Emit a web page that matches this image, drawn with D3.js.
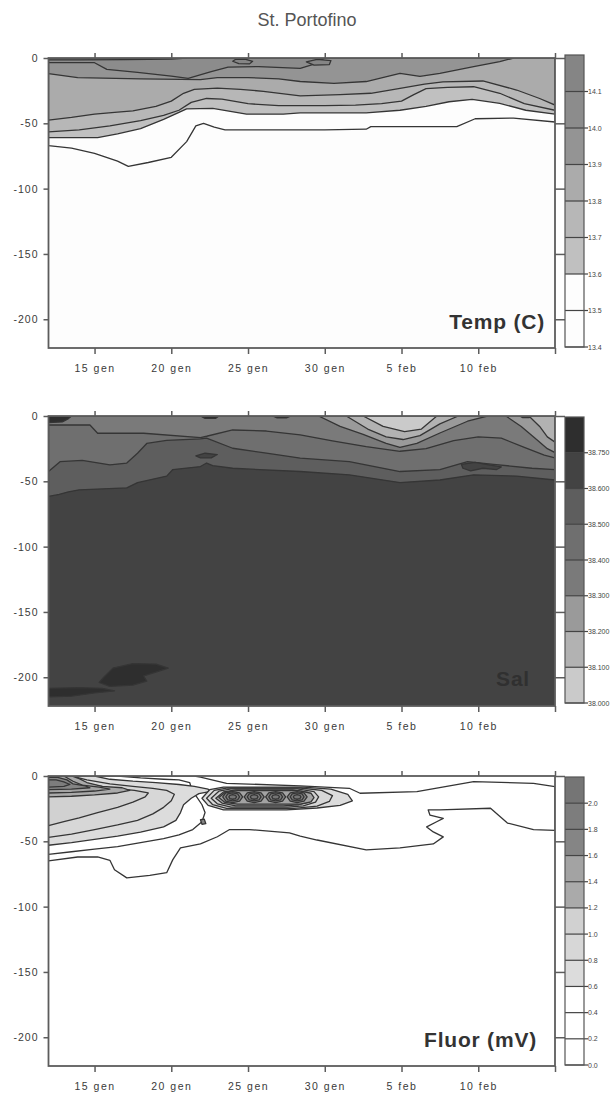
<!DOCTYPE html>
<html>
<head>
<meta charset="utf-8">
<script src="https://cdn.jsdelivr.net/npm/d3@7"></script>
<style>
  body { margin: 0; background: #fff; }
  svg { display: block; font-family: "Liberation Sans", Arial, sans-serif; }
</style>
</head>
<body>
<svg id="chart" width="613" height="1097"></svg>
<script>
// ---------- axes ----------
const dayTicks = [15, 20, 25, 30, 35, 40, 45];          // day count from 1 January
const dayTickLabels = ["15 gen", "20 gen", "25 gen", "30 gen", "5 feb", "10 feb", ""];
const depthTicks = [0, -50, -100, -150, -200];            // metres

// ---------- temperature (contour regions as [day, depth] outlines) ----------
const tempLevels = ["13.4", "13.5", "13.6", "13.7", "13.8", "13.9", "14.0", "14.1"];
const tempColors = ["#fdfdfd", "#fdfdfd", "#c0c0c0", "#b7b7b7", "#ababab", "#949494", "#8c8c8c", "#858585"];
const temp1 = [[12,-67],[13.5,-69],[15,-73],[16.5,-79],[17.2,-83],[18.5,-80],[20,-76],[21,-64],[21.6,-52],[22.1,-50],[22.8,-53],[23.5,-55],[30,-55],[32.7,-54.5],[33,-52.5],[38.6,-52.5],[39.8,-46.5],[42.3,-46],[45,-49],[45,0],[12,0]];
const temp2 = [[12,-61],[15.2,-61],[16.5,-58],[18,-54],[19.5,-47],[21,-39],[22.7,-38.5],[24.9,-43],[27.3,-43],[28.4,-42],[32.7,-42],[34.9,-40],[36.6,-37],[38.1,-33.5],[39.6,-31.7],[41.4,-34.7],[43.1,-40],[45,-43],[45,0],[12,0]];
const temp3 = [[12,-56.5],[14,-55],[16,-52],[18,-48],[19.5,-44],[20.5,-40],[21.3,-34],[22.3,-31],[23.3,-31.5],[25,-35],[27,-36.5],[30,-36.5],[32,-36],[33.7,-35],[35,-33],[35.8,-28],[36.6,-23.5],[38,-22.5],[39.7,-22],[41.4,-27],[43,-35],[45,-40],[45,0],[12,0]];
const temp4 = [[12,-47.5],[13.5,-45.5],[15,-43],[16.5,-41.5],[17.5,-40.5],[19,-37],[20,-33],[20.8,-27],[21.5,-24],[23,-23],[24.5,-24],[26,-25.5],[28.4,-29],[31,-28],[33,-27],[35,-23],[36.5,-20],[37.7,-18.3],[40.3,-17.6],[42.5,-24.5],[44,-31],[45,-36],[45,0],[12,0]];
const temp5 = [[12,-12],[13.9,-15],[18,-16],[21.9,-16.5],[23,-15],[25,-15],[27,-16],[28.4,-18],[30.6,-19.4],[32.7,-18],[34.9,-11.8],[36.2,-14],[37.5,-11.8],[39.7,-6.6],[41.4,-2.8],[42.3,0],[12,0]];
const temp6 = [[12,-3.6],[15,-3.6],[15.8,-8.7],[17.8,-11],[20,-13.8],[21.1,-15.6],[22.6,-10.5],[23.7,-7],[25.7,-6.6],[28.4,-8],[29.2,-5],[29.7,-2],[30,0],[12,0]];
const temp7a = [[12,0],[12,-1.5],[14,-1.5],[17,-1.2],[20,-0.8],[21,0]];
const temp7b = [[24,-2.5],[24.4,-4.3],[25.1,-4.5],[25.3,-2.5],[24.8,-0.8],[24.2,-1]];
const temp7c = [[28.8,-3],[29.3,-5.5],[30.3,-5],[30.4,-2],[29.5,-1]];

// ---------- salinity ----------
const salLevels = ["38.000", "38.100", "38.200", "38.300", "38.400", "38.500", "38.600", "38.750"];
const salColors = ["#cacaca", "#b2b2b2", "#9a9a9a", "#7a7a7a", "#6f6f6f", "#5e5e5e", "#434343", "#2e2e2e"];
const sal5 = [[12,-61.6],[12.7,-60],[13.3,-58],[14,-56.5],[17.1,-55],[17.8,-51],[19.7,-46],[20.1,-41],[21.9,-38.7],[22.3,-36],[22.7,-38],[24,-40],[28.4,-42.5],[31.6,-45],[34.9,-51],[37.5,-49],[39.7,-45],[42.5,-46],[45,-49],[45,0],[12,0]];
const sal4 = [[12,-42.5],[12.75,-35],[14.2,-34],[16,-37.4],[17.1,-36],[17.8,-28.5],[18.4,-21],[19.7,-18.7],[21.9,-17.5],[22.3,-17],[24,-24.7],[26.2,-28.5],[28.4,-32.3],[31.6,-35],[34.9,-42.5],[37.5,-41],[39.3,-35],[41,-37],[43.5,-40],[45,-41],[45,0],[12,0]];
const sal3 = [[12,-6.9],[14.7,-6.9],[15.2,-13.2],[18.2,-13.2],[21.9,-16.5],[22.3,-15.5],[24,-10.7],[26.2,-11.5],[28.4,-14.5],[30.5,-19],[32.7,-23.4],[34.9,-27],[36.6,-25],[38.4,-18.8],[40,-16],[41.5,-17],[43,-24],[44.3,-30],[45,-32],[45,0],[12,0]];
const sal2a = [[29.6,0],[31,-8],[32.5,-14],[34,-21],[34.9,-24],[36,-21],[37.5,-13],[39.3,-4],[40.6,0]];
const sal2b = [[41.8,0],[42.8,-8],[43.8,-18],[44.5,-25],[45,-28],[45,0]];
const sal1a = [[31.4,0],[32.8,-10],[34,-16],[35.1,-18],[36.2,-15],[37.5,-6],[38.7,0]];
const sal1b = [[43.3,0],[44,-8],[44.5,-16],[45,-20],[45,0]];
const sal0 = [[32.5,0],[33.8,-8],[35.2,-12],[36.3,-10],[37.3,0]];
const sal6a = [[21.6,-30.5],[22.2,-28.5],[23,-29.5],[22.6,-32],[21.9,-32]];
const sal6b = [[38.9,-37],[39.8,-35.5],[40.5,-37],[41.5,-39],[41.2,-41],[40.3,-40],[39.5,-42],[39,-40]];
const sal7a = [[15.6,-200],[16.2,-193],[17.5,-189.5],[19,-190],[19.8,-193],[19,-196],[18.2,-199],[18.4,-203],[17.5,-206],[16,-207],[15.3,-204]];
const sal7b = [[12,-208.5],[14,-208],[15.5,-208.5],[16.3,-210.5],[15,-212],[13.5,-214.5],[12,-215]];
const sal7c = [[12,0],[12,-5],[12.9,-4.5],[13.3,-2],[13.5,0]];
const sal7d = [[21.9,0],[22.2,-1.8],[22.9,-1.8],[23.1,0]];
const sal7e = [[26.6,0],[26.9,-1.5],[27.5,-1.5],[27.8,0]];
const sal7f = [[42.7,0],[42.9,-1.3],[43.3,-1.3],[43.5,0]];

// ---------- fluorescence ----------
const fluorLevels = ["0.0", "0.2", "0.4", "0.6", "0.8", "1.0", "1.2", "1.4", "1.6", "1.8", "2.0"];
const fluorColors = ["#ffffff", "#ffffff", "#ffffff", "#dcdcdc", "#d7d7d7", "#d1d1d1", "#aaaaaa", "#a3a3a3", "#858585", "#7d7d7d", "#757575"];
const fluor1 = [[12,-65],[13.9,-62],[15.2,-62],[16,-64.5],[16.3,-71.8],[17.1,-78],[18.6,-76],[19.7,-74],[20.1,-64],[20.6,-55],[21.9,-52],[23,-46.5],[23.8,-41],[25.1,-41],[27.7,-43.5],[28.4,-46],[29.5,-49],[32.7,-56.5],[34.9,-55],[37.07,-52],[37.72,-46.6],[37.07,-42.8],[36.64,-39],[37.29,-35],[37.72,-32.4],[36.85,-29.9],[36.74,-26],[37.5,-26],[40.8,-24.7],[41.9,-36],[43.6,-41],[45,-41.7],[45,-8.1],[43.6,-5.6],[39.7,-4.3],[36,-12],[32.3,-13.2],[31.6,-9.4],[28.4,-7.5],[23.6,-5.6],[21.9,-0.8],[21.5,0],[12,0]];
const fluor2 = [[12,0],[12,-60],[13.5,-58],[15,-56],[16.5,-54],[18,-51],[19.5,-48],[20.5,-45],[21.4,-41],[22,-35],[22.2,-28],[22,-22],[21.6,-15],[21.3,-9],[21.2,-5],[20.5,-3],[19.5,-2.5],[18,-1.5],[16.5,0]];
const fluor3 = [[12,0],[12,-53],[13.5,-51],[15,-48.5],[16.5,-46],[18,-43],[19.5,-39],[20.3,-34],[20.6,-28],[20.8,-22],[21.3,-17],[21.8,-13.5],[22.5,-12],[22.4,-10],[21.5,-8],[20.5,-6.5],[19,-5],[17.5,-4],[16,-2.5],[15,0]];
const fluor4 = [[12,0],[12,-47],[13.5,-44.5],[15,-41],[16.5,-37.5],[17.8,-34],[18.8,-29],[19.5,-24],[20,-19],[20.2,-14],[19.7,-11],[18.8,-9.5],[17.5,-8],[16,-6],[14.5,-3],[13.5,0]];
const fluor5 = [[12,0],[12,-38],[13,-35],[14,-32],[15.2,-28],[16.5,-24],[17.5,-20],[18.3,-16],[18.5,-13],[17.6,-11],[16.2,-9.5],[15,-7],[13.8,-4],[13,0]];
const fluor6 = [[12,0],[12,-16],[13.5,-15.5],[15,-14.5],[16.5,-13],[17.3,-11],[16.8,-9],[15.5,-8],[14.5,-5],[14,-2],[13.5,0]];
const fluor7 = [[12,0],[12,-13],[13.5,-12.5],[15,-11.5],[16,-10],[15.3,-8.5],[14.2,-7],[13.6,-4],[13,0]];
const fluor8 = [[12,-1],[12,-10.5],[13.5,-10],[14.7,-9],[14.4,-7.5],[13.6,-6],[13.2,-3],[12.6,-1]];
const fluor9 = [[12,-3],[12,-8.5],[13,-8],[13.4,-6.5],[13,-4.5],[12.5,-3]];
const fluorMark = [[21.9,-33.5],[22.15,-33],[22.25,-36.5],[22.0,-37]];
// subsurface maximum, 22-31 January: outer rings, then a row of small cores
const blob3 = [[22.0,-17],[22.5,-10.5],[23.4,-8.5],[28.6,-8.5],[30.4,-10],[31.5,-14],[31.8,-19],[31.0,-22.5],[29.5,-24.5],[27.5,-26],[23.4,-26],[22.4,-22.5]];
const blob4 = [[22.3,-17],[22.8,-11],[23.6,-9.2],[28.4,-9.2],[29.8,-11],[30.5,-15],[30.3,-19.5],[29.5,-23],[28,-24.8],[23.6,-24.8],[22.7,-22]];
const blob5 = [[22.6,-17],[23.1,-11.6],[23.9,-9.9],[28.2,-9.9],[29.3,-12],[29.6,-16],[29.4,-20],[28.6,-22.8],[27.6,-23.8],[23.9,-23.8],[23,-21.3]];
const blob6 = [[22.9,-17],[23.4,-12.2],[24.2,-10.6],[27.9,-10.6],[28.9,-12.6],[29.2,-16.5],[29,-20],[28.3,-22],[27.3,-22.8],[24.2,-22.8],[23.3,-20.7]];
const blob7 = [[23.1,-16.5],[23.5,-12.6],[24.3,-11.2],[28.3,-11.2],[29.1,-13.2],[29.3,-16.5],[29.1,-19.8],[28.4,-21.6],[24.3,-21.6],[23.5,-20.2]];
const blob8 = [
  [[23.35,-16],[23.55,-12.85],[24.0,-11.9],[24.45,-12.85],[24.65,-16],[24.45,-19.15],[24.0,-20.3],[23.55,-19.15]],
  [[24.75,-16],[24.95,-12.85],[25.4,-11.9],[25.85,-12.85],[26.05,-16],[25.85,-19.15],[25.4,-20.3],[24.95,-19.15]],
  [[26.15,-16],[26.35,-12.85],[26.8,-11.9],[27.25,-12.85],[27.45,-16],[27.25,-19.15],[26.8,-20.3],[26.35,-19.15]],
  [[27.55,-16],[27.75,-12.85],[28.2,-11.9],[28.65,-12.85],[28.85,-16],[28.65,-19.15],[28.2,-20.3],[27.75,-19.15]]
];
const blob9 = [
  [[23.55,-16],[23.68,-13.76],[24.0,-12.9],[24.32,-13.76],[24.45,-16],[24.32,-18.24],[24.0,-19.1],[23.68,-18.24]],
  [[24.95,-16],[25.08,-13.76],[25.4,-12.9],[25.72,-13.76],[25.85,-16],[25.72,-18.24],[25.4,-19.1],[25.08,-18.24]],
  [[26.35,-16],[26.48,-13.76],[26.8,-12.9],[27.12,-13.76],[27.25,-16],[27.12,-18.24],[26.8,-19.1],[26.48,-18.24]],
  [[27.75,-16],[27.88,-13.76],[28.2,-12.9],[28.52,-13.76],[28.65,-16],[28.52,-18.24],[28.2,-19.1],[27.88,-18.24]]
];
const blob10 = [
  [[23.75,-16],[23.82,-14.74],[24.0,-14.2],[24.18,-14.74],[24.25,-16],[24.18,-17.26],[24.0,-17.8],[23.82,-17.26]],
  [[25.15,-16],[25.22,-14.74],[25.4,-14.2],[25.58,-14.74],[25.65,-16],[25.58,-17.26],[25.4,-17.8],[25.22,-17.26]],
  [[26.55,-16],[26.62,-14.74],[26.8,-14.2],[26.98,-14.74],[27.05,-16],[26.98,-17.26],[26.8,-17.8],[26.62,-17.26]],
  [[27.95,-16],[28.02,-14.74],[28.2,-14.2],[28.38,-14.74],[28.45,-16],[28.38,-17.26],[28.2,-17.8],[28.02,-17.26]]
];

// ---------- panels ----------
const panels = [
  { top: 58, title: "Temp (C)", titleX: 545, titleY: 329, titleFill: "#333",
    levels: tempLevels, colors: tempColors, base: 0, cbTop: 55, cbBottom: 347,
    shapes: [[temp1,1],[temp2,2],[temp3,3],[temp4,4],[temp5,5],[temp6,6],[temp7a,7],[temp7b,7],[temp7c,7]] },
  { top: 416, title: "Sal", titleX: 530, titleY: 686, titleFill: "#303030",
    levels: salLevels, colors: salColors, base: 6, cbTop: 417, cbBottom: 703,
    shapes: [[sal5,5],[sal4,4],[sal3,3],[sal2a,2],[sal2b,2],[sal1a,1],[sal1b,1],[sal0,0],
             [sal6a,6],[sal6b,6],[sal7a,7],[sal7b,7],[sal7c,7],[sal7d,7],[sal7e,7],[sal7f,7]] },
  { top: 776, title: "Fluor (mV)", titleX: 537, titleY: 1047, titleFill: "#333",
    levels: fluorLevels, colors: fluorColors, base: 0, cbTop: 777, cbBottom: 1065,
    shapes: [[fluor1,1],[fluor2,2],[fluor3,3],[fluor4,4],[fluor5,5],[fluor6,6],[fluor7,7],[fluor8,8],[fluor9,9],
             [fluorMark,8],[blob3,3],[blob4,4],[blob5,5],[blob6,6],[blob7,7],[blob8,8],[blob9,9],[blob10,10]] }
];

const svg = d3.select("#chart");
const X0 = 48.5, X1 = 555, PH = 290;
const CBX = 565, CBW = 19;
const x = d3.scaleLinear().domain([12, 45]).range([X0, X1]);

svg.append("text")
  .attr("x", 307).attr("y", 26)
  .attr("text-anchor", "middle")
  .attr("font-size", 18).attr("fill", "#555")
  .text("St. Portofino");

panels.forEach((p, i) => {
  const y = d3.scaleLinear().domain([-222, 0]).range([p.top + PH, p.top]);
  const g = svg.append("g");
  const clipId = "clip" + i;
  g.append("clipPath").attr("id", clipId)
    .append("rect").attr("x", X0).attr("y", p.top).attr("width", X1 - X0).attr("height", PH);

  const plot = g.append("g").attr("clip-path", `url(#${clipId})`);
  plot.append("rect")
    .attr("x", X0).attr("y", p.top).attr("width", X1 - X0).attr("height", PH)
    .attr("fill", p.colors[p.base]);

  // a shape is one outline or a list of outlines sharing the same band
  const regions = [];
  p.shapes.forEach(([pts, band]) => {
    if (Array.isArray(pts[0][0])) pts.forEach(q => regions.push([q, band]));
    else regions.push([pts, band]);
  });

  const outline = d3.line().x(d => x(d[0])).y(d => y(d[1])).curve(d3.curveLinearClosed);
  plot.selectAll("path.region").data(regions).join("path")
    .attr("class", "region")
    .attr("d", d => outline(d[0]))
    .attr("fill", d => p.colors[d[1]])
    .attr("stroke", "#353535")
    .attr("stroke-width", 1.3)
    .attr("stroke-linejoin", "round");

  // frame
  g.append("rect")
    .attr("x", X0).attr("y", p.top).attr("width", X1 - X0).attr("height", PH)
    .attr("fill", "none").attr("stroke", "#5c5c5c").attr("stroke-width", 1.8);

  const styleAxis = (spacing) => sel => {
    sel.select(".domain").remove();
    sel.selectAll(".tick line").attr("stroke", "#5c5c5c").attr("stroke-width", 1.5);
    sel.selectAll(".tick text").attr("fill", "#3a3a3a").attr("font-size", 10.5)
      .attr("letter-spacing", spacing)
      .attr("font-family", "'Liberation Sans', Arial, sans-serif");
  };

  g.append("g").attr("transform", `translate(0,${p.top + PH})`)
    .call(d3.axisBottom(x).tickValues(dayTicks).tickSize(6).tickPadding(11)
      .tickFormat((d, k) => dayTickLabels[k]))
    .call(styleAxis(1.5));
  g.append("g").attr("transform", `translate(0,${p.top})`)
    .call(d3.axisTop(x).tickValues(dayTicks).tickSize(5).tickFormat(""))
    .call(styleAxis(0));
  g.append("g").attr("transform", `translate(${X0},0)`)
    .call(d3.axisLeft(y).tickValues(depthTicks).tickSize(5).tickPadding(5).tickFormat(d => String(d)))
    .call(styleAxis(1));
  g.append("g").attr("transform", `translate(${X1},0)`)
    .call(d3.axisRight(y).tickValues(depthTicks).tickSize(10).tickFormat(""))
    .call(styleAxis(0));

  g.append("text")
    .attr("x", p.titleX).attr("y", p.titleY)
    .attr("text-anchor", "end")
    .attr("font-size", 21).attr("font-weight", "bold")
    .attr("letter-spacing", 0.8)
    .attr("fill", p.titleFill)
    .text(p.title);

  // colour bar
  const n = p.colors.length;
  const cb = d3.scaleLinear().domain([0, n]).range([p.cbBottom, p.cbTop]);
  const bar = g.append("g");
  bar.selectAll("rect.band").data(p.colors).join("rect")
    .attr("class", "band")
    .attr("x", CBX).attr("width", CBW)
    .attr("y", (c, k) => cb(k + 1)).attr("height", (c, k) => cb(k) - cb(k + 1))
    .attr("fill", c => c);
  bar.selectAll("line.sep").data(p.levels).join("line")
    .attr("class", "sep")
    .attr("x1", CBX).attr("x2", CBX + CBW + 4)
    .attr("y1", (l, k) => cb(k)).attr("y2", (l, k) => cb(k))
    .attr("stroke", "#444").attr("stroke-width", 1.2);
  bar.append("rect")
    .attr("x", CBX).attr("y", p.cbTop).attr("width", CBW).attr("height", p.cbBottom - p.cbTop)
    .attr("fill", "none").attr("stroke", "#555").attr("stroke-width", 1.2);
  bar.selectAll("text").data(p.levels).join("text")
    .attr("x", CBX + CBW + 4).attr("y", (l, k) => cb(k) + 2.5)
    .attr("font-size", 7).attr("fill", "#444")
    .text(l => l);
});
</script>
</body>
</html>
